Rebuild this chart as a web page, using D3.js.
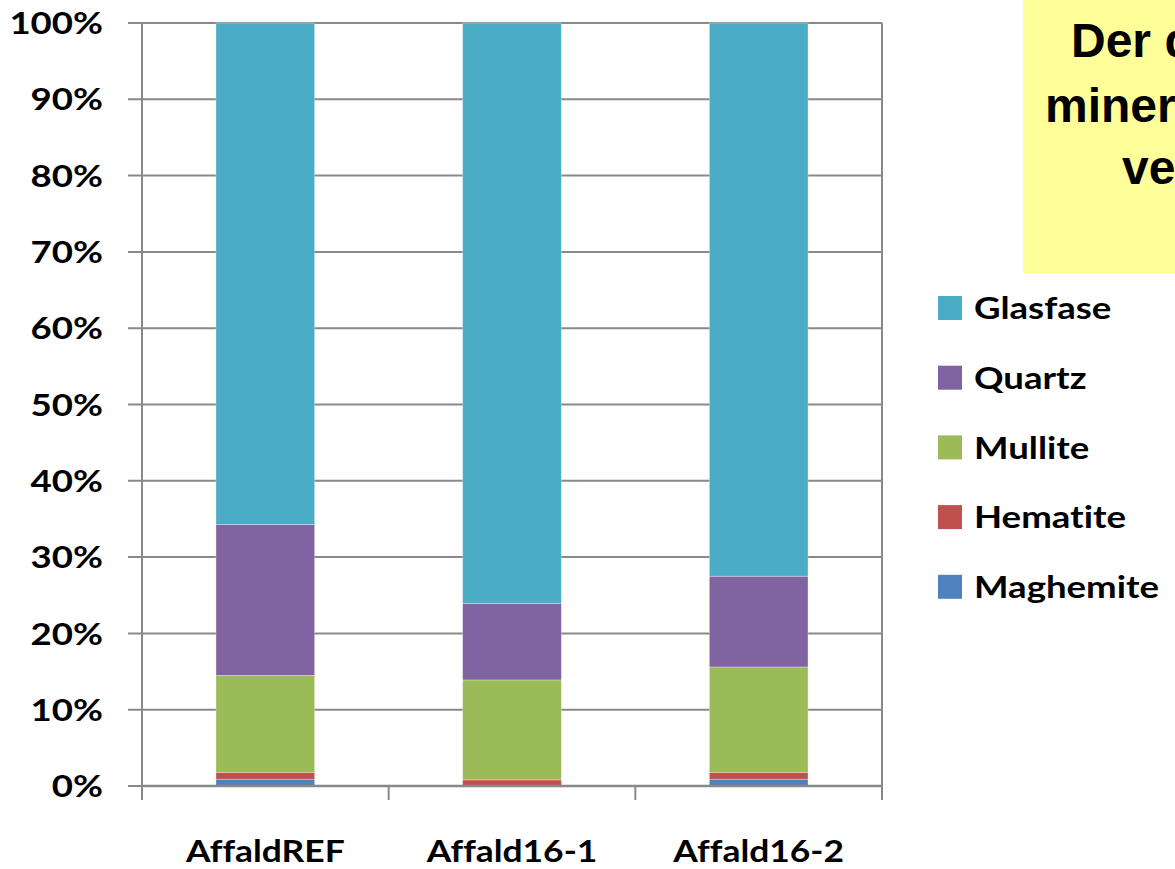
<!DOCTYPE html>
<html>
<head>
<meta charset="utf-8">
<script src="https://cdn.jsdelivr.net/npm/d3@7"></script>
<style>
  html, body { margin: 0; padding: 0; background: #fff; overflow: hidden; }
  svg { display: block; }
  .lbl { font-family: Lato, "Open Sans", sans-serif; font-weight: 700; fill: #000;
         font-variant-ligatures: none; font-feature-settings: "liga" 0; }
  .note { font-family: "Liberation Sans", Arial, sans-serif; font-weight: 700; fill: #000; }
</style>
</head>
<body>
<svg id="chart" width="1175" height="869"></svg>
<script>
// Mineral phase composition (% of sample)
const categories = ["AffaldREF", "Affald16-1", "Affald16-2"];
const maghemite = [0.9, 0.0, 0.9];
const hematite  = [0.9, 0.8, 0.9];
const mullite   = [12.7, 13.1, 13.8];
const quartz    = [19.8, 10.0, 11.9];
const glasfase  = [65.7, 76.1, 72.5];
const yTicks = [0, 10, 20, 30, 40, 50, 60, 70, 80, 90, 100];

const seriesNames  = ["Maghemite", "Hematite", "Mullite", "Quartz", "Glasfase"];
const seriesValues = [maghemite, hematite, mullite, quartz, glasfase];
const colors = {
  Glasfase: "#4BACC6", Quartz: "#8064A2", Mullite: "#9BBB59",
  Hematite: "#C0504D", Maghemite: "#4F81BD"
};

const table = categories.map((c, i) => {
  const row = { category: c };
  seriesNames.forEach((s, k) => row[s] = seriesValues[k][i]);
  return row;
});

const svg = d3.select("#chart");
const plotLeft = 142, plotRight = 882, plotTop = 23, plotBottom = 786;
const widen = 1.18;   // labels are set slightly expanded horizontally

const x = d3.scaleBand().domain(categories).range([plotLeft, plotRight])
  .paddingInner(0.6).paddingOuter(0.3);
const y = d3.scaleLinear().domain([0, 100]).range([plotBottom, plotTop]);

const gridColor = "#898989";

// horizontal gridlines with left ticks
svg.append("g").selectAll("line").data(yTicks).join("line")
  .attr("x1", plotLeft - 14).attr("x2", plotRight)
  .attr("y1", d => y(d)).attr("y2", d => y(d))
  .attr("stroke", gridColor).attr("stroke-width", 2);

// y labels
svg.append("g").selectAll("text").data(yTicks).join("text")
  .attr("class", "lbl")
  .attr("transform", d => `translate(103,${y(d)}) scale(${widen},1)`)
  .attr("dy", "0.36em")
  .attr("text-anchor", "end").attr("font-size", 31)
  .text(d => d + "%");

// stacked bars
const stack = d3.stack().keys(seriesNames);
const layers = stack(table);
svg.append("g").selectAll("g").data(layers).join("g")
  .attr("fill", d => colors[d.key])
  .selectAll("rect").data(d => d).join("rect")
  .attr("x", d => x(d.data.category))
  .attr("width", x.bandwidth())
  .attr("y", d => y(d[1]))
  .attr("height", d => Math.max(0, y(d[0]) - y(d[1])))
  .attr("stroke", "rgba(255,255,255,0.5)").attr("stroke-width", 0.6);

// axis lines
svg.append("line").attr("x1", plotLeft).attr("x2", plotLeft).attr("y1", plotTop).attr("y2", plotBottom + 14)
  .attr("stroke", gridColor).attr("stroke-width", 2);
svg.append("line").attr("x1", plotRight).attr("x2", plotRight).attr("y1", plotTop).attr("y2", plotBottom + 14)
  .attr("stroke", gridColor).attr("stroke-width", 2);
svg.append("line").attr("x1", plotLeft).attr("x2", plotRight).attr("y1", plotBottom).attr("y2", plotBottom)
  .attr("stroke", gridColor).attr("stroke-width", 2.5);

// x category boundary ticks
const bounds = d3.range(categories.length + 1).map(i => plotLeft + i * x.step());
svg.append("g").selectAll("line").data(bounds).join("line")
  .attr("x1", d => d).attr("x2", d => d)
  .attr("y1", plotBottom).attr("y2", plotBottom + 14)
  .attr("stroke", gridColor).attr("stroke-width", 2);

// x labels
svg.append("g").selectAll("text").data(categories).join("text")
  .attr("class", "lbl")
  .attr("transform", d => `translate(${x(d) + x.bandwidth() / 2},862) scale(${widen},1)`)
  .attr("text-anchor", "middle").attr("font-size", 30)
  .text(d => d);

// legend
const legendOrder = ["Glasfase", "Quartz", "Mullite", "Hematite", "Maghemite"];
const lg = svg.append("g").selectAll("g").data(legendOrder).join("g")
  .attr("transform", (d, i) => `translate(938, ${296 + i * 69.7})`);
lg.append("rect").attr("width", 24).attr("height", 24).attr("fill", d => colors[d]);
lg.append("text").attr("class", "lbl")
  .attr("transform", `translate(36,12) scale(${widen},1)`).attr("dy", "0.36em")
  .attr("font-size", 31).text(d => d);

// note box
svg.append("rect").attr("x", 1023).attr("y", 0).attr("width", 260).attr("height", 273)
  .attr("fill", "#FFFF99");
const noteLines = [
  { t: "Der dannes mindre", x: 1071, y: 57 },
  { t: "mineralsk fase", x: 1045, y: 122 },
  { t: "ved tilsætning", x: 1122, y: 184 }
];
svg.append("g").selectAll("text").data(noteLines).join("text")
  .attr("class", "note").attr("font-size", 48)
  .attr("x", d => d.x).attr("y", d => d.y)
  .text(d => d.t);
</script>
</body>
</html>
